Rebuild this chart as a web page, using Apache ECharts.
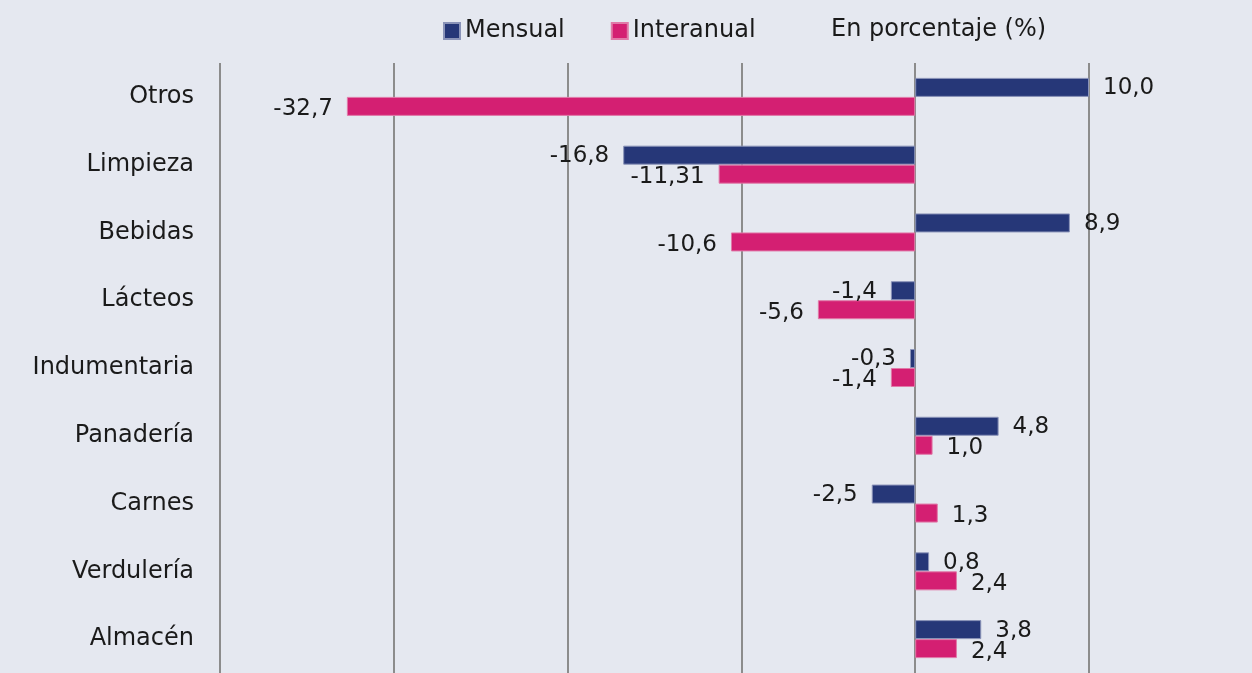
<!DOCTYPE html>
<html>
<head>
<meta charset="utf-8">
<script src="https://cdn.jsdelivr.net/npm/echarts@6/dist/echarts.min.js"></script>
<style>
  html, body { margin: 0; padding: 0; background: #e5e8f0; }
  #chart { width: 1252px; height: 673px; }
</style>
</head>
<body>
<div id="chart"></div>
<script>
const categories = ['Otros', 'Limpieza', 'Bebidas', 'Lácteos', 'Indumentaria', 'Panadería', 'Carnes', 'Verdulería', 'Almacén']
const mensual = [10.0, -16.8, 8.9, -1.4, -0.3, 4.8, -2.5, 0.8, 3.8]
const interanual = [-32.7, -11.31, -10.6, -5.6, -1.4, 1.0, 1.3, 2.4, 2.4]

const fmt = (v) => {
  let s = String(v)
  if (!s.includes('.')) s += '.0'
  return s.replace('.', ',')
}

// negative values get their label on the left
const toItems = (arr) => arr.map(v => ({
  value: v,
  label: { position: v < 0 ? 'left' : 'right' }
}))

const font = '"DejaVu Sans", sans-serif'

const chart = echarts.init(document.getElementById('chart'))
chart.setOption({
  backgroundColor: '#e5e8f0',
  animation: false,
  title: {
    text: 'En porcentaje (%)',
    left: 826,
    top: 13,
    textStyle: { fontFamily: font, fontSize: 24, fontWeight: 'normal', color: '#1a1a1a' }
  },
  legend: {
    left: 438,
    top: 14,
    itemWidth: 16,
    itemHeight: 16,
    itemGap: 46,
    icon: 'rect',
    textStyle: { fontFamily: font, fontSize: 24, color: '#1a1a1a' },
    data: ['Mensual', 'Interanual']
  },
  grid: {
    left: 220,
    right: 163,
    top: 63,
    height: 617,
    containLabel: false
  },
  xAxis: {
    type: 'value',
    min: -40,
    max: 10,
    interval: 10,
    axisLabel: { show: false },
    axisLine: { show: false },
    axisTick: { show: false },
    splitLine: { show: true, lineStyle: { color: '#8c8c8c', width: 2 } }
  },
  yAxis: {
    type: 'category',
    inverse: true,
    data: categories,
    axisLine: { show: false },
    axisTick: { show: false },
    axisLabel: { margin: 26, padding: [4, 0, 0, 0], fontFamily: font, fontSize: 24, color: '#1a1a1a' }
  },
  series: [
    {
      name: 'Mensual',
      type: 'bar',
      barWidth: 19,
      barGap: '0%',
      itemStyle: { color: '#263778', borderColor: '#8a93b8', borderWidth: 1 },
      label: { show: true, distance: 14, offset: [0, 1], fontFamily: font, fontSize: 23, color: '#1a1a1a', formatter: p => fmt(p.value) },
      data: toItems(mensual)
    },
    {
      name: 'Interanual',
      type: 'bar',
      barWidth: 19,
      barGap: '0%',
      itemStyle: { color: '#d41f72', borderColor: '#e07aa8', borderWidth: 1 },
      label: { show: true, distance: 14, offset: [0, 3], fontFamily: font, fontSize: 23, color: '#1a1a1a', formatter: p => fmt(p.value) },
      data: toItems(interanual)
    }
  ]
})
</script>
</body>
</html>
